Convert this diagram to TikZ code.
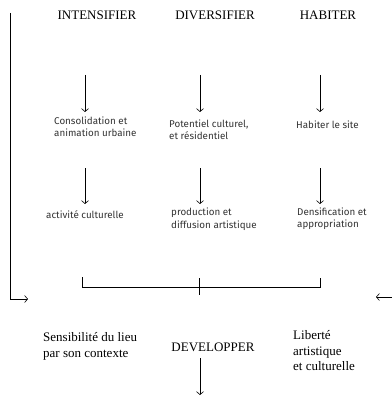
\documentclass[tikz,border=0pt]{standalone}
\usepackage{fontspec}
\setmainfont{Liberation Serif}
\newfontfamily\labelfont{Fira Sans}
\usepackage{tikz}
\usetikzlibrary{arrows.meta,positioning}
\tikzset{
  head/.style={font=\fontsize{13}{16}\selectfont, inner sep=0pt},          % column titles
  note/.style={font=\labelfont\fontsize{9.8}{12.5}\selectfont, text=black!80,
               align=left, inner sep=0pt, anchor=west},                  % small sans labels
  big/.style={font=\fontsize{13}{16}\selectfont, align=left, inner sep=0pt, anchor=west},
  flow/.style={-{Straight Barb[length=3pt,width=7pt]}, line width=0.6pt},
  rail/.style={line width=0.6pt}
}
\newcommand{\ColArrow}[2]{% #1=start, #2=end
  \draw[flow] (#1) -- (#2);
}
\begin{document}
\begin{tikzpicture}[x=1pt,y=-1pt]
  \useasboundingbox (0,0) rectangle (391,398);
  % column titles
  \node[head] (intens) at (97,15) {INTENSIFIER};
  \node[head] (divers) at (215,15) {DIVERSIFIER};
  \node[head] (habit)  at (328,15) {HABITER};
  % first row of labels
  \node[note] (conso) at (54,126.5) {Consolidation et\\animation urbaine};
  \node[note] (poten) at (169,129.5) {Potentiel culturel,\\et résidentiel};
  \node[note] (site)  at (296,125) {Habiter le site};
  % second row of labels
  \node[note] (activ) at (46,215) {activité culturelle};
  \node[note] (prod)  at (171,219) {production et\\diffusion artistique};
  \node[note] (dens)  at (297,218.5) {Densification et\\appropriation};
  % arrow ends
  \foreach \n/\x in {a/85,b/200,c/320}{
    \coordinate (\n1) at (\x,75);
    \coordinate (\n2) at (\x,112);
    \coordinate (\n3) at (\x,168);
    \coordinate (\n4) at (\x,204);
  }
  \foreach \n in {a,b,c}{
    \ColArrow{\n1}{\n2}
    \ColArrow{\n3}{\n4}
  }
  % bracket gathering the three columns
  \coordinate (bl) at (82,277);
  \coordinate (br) at (320,278);
  \coordinate (bt) at (199,278);
  \draw[rail] (bl) -- ++(0,10) -| (br);
  \draw[rail] (bt) -- ++(0,17);
  % side returns
  \coordinate (lt) at (10.7,13);
  \coordinate (lb) at (28,299);
  \draw[flow] (lt) |- (lb);
  \coordinate (rs) at (392,297);
  \coordinate (re) at (376,297);
  \draw[flow] (rs) -- (re);
  % bottom row
  \node[big] (sens) at (43,346) {Sensibilité du lieu\\par son contexte};
  \node[head] (devel) at (213,347) {DEVELOPPER};
  \node[big, font=\fontsize{13}{15.5}\selectfont] (liber) at (293,351) {Liberté\\artistique\\et culturelle};
  \coordinate (d1) at (200,358);
  \coordinate (d2) at (200,395);
  \ColArrow{d1}{d2}
\end{tikzpicture}
\end{document}
